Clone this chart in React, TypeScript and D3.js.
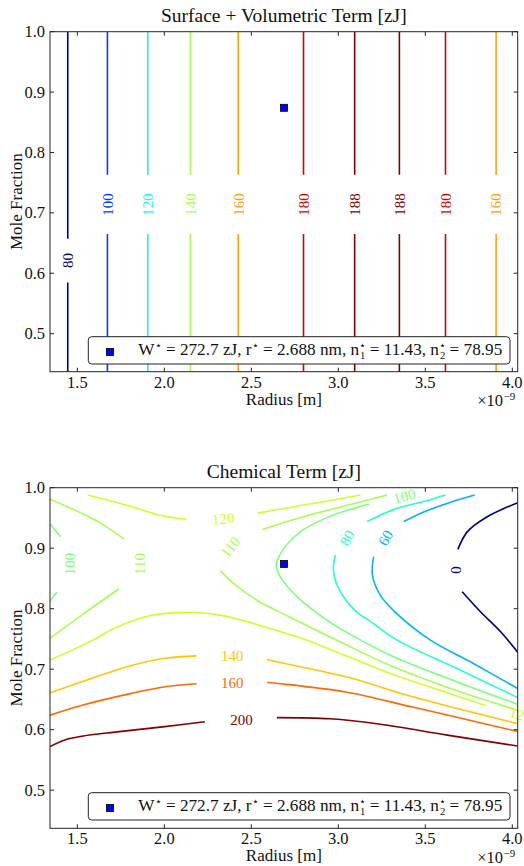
import React from 'react';
import * as d3 from 'd3';

// ---------- data ----------
const X_DOMAIN = [1.343, 4.031]; // radius, x1e-9 m
const Y_DOMAIN = [0.437, 1.0]; // mole fraction
const X_TICKS = [1.5, 2.0, 2.5, 3.0, 3.5, 4.0];
const Y_TICKS = [0.5, 0.6, 0.7, 0.8, 0.9, 1.0];

const CRIT_R = 2.688;
const CRIT_X = 0.874;

// Surface + volumetric term: vertical contours
const SV_LEVELS = [80, 100, 120, 140, 160, 180, 188, 188, 180, 160];
const SV_RADII = [1.445, 1.673, 1.905, 2.15, 2.425, 2.8, 3.094, 3.351, 3.616, 3.907];
const SV_LABEL_X = [0.621, 0.714, 0.714, 0.714, 0.714, 0.714, 0.714, 0.714, 0.714, 0.714];
const SV_RANGE = [80, 188];

// Chemical term contours (segments between inline labels): [radius, mole fraction]
const CHEM_RANGE = [0, 200];
const chem0 = [
  [[3.687, 0.898], [3.741, 0.927], [3.856, 0.952], [4.031, 0.975]],
  [[3.712, 0.828], [3.817, 0.795], [3.933, 0.762], [4.031, 0.728]],
];
const chem60 = [
  [[3.376, 0.944], [3.501, 0.961], [3.645, 0.976], [3.784, 0.988]],
  [[3.203, 0.886], [3.196, 0.855], [3.242, 0.822], [3.328, 0.794], [3.53, 0.748], [3.779, 0.709], [4.031, 0.668]],
];
const chem80 = [
  [[3.165, 0.944], [3.328, 0.965], [3.501, 0.978], [3.616, 0.988]],
  [[2.983, 0.889], [2.973, 0.861], [3.012, 0.828], [3.108, 0.794], [3.174, 0.781], [3.338, 0.748], [3.683, 0.701], [4.031, 0.653]],
];
const chem100Left = [
  [[1.343, 0.94], [1.372, 0.93], [1.402, 0.919]],
  [[1.383, 0.827], [1.362, 0.82], [1.343, 0.812]],
];
const chem100Right = [
  [[3.178, 0.973], [2.954, 0.953], [2.781, 0.927], [2.695, 0.903], [2.649, 0.88], [2.643, 0.87], [2.666, 0.853], [2.762, 0.82], [2.896, 0.789], [3.012, 0.767], [3.299, 0.723], [3.683, 0.679], [4.031, 0.642]],
];
const chem110Left = [
  [[1.343, 0.981], [1.523, 0.958], [1.638, 0.941], [1.769, 0.915]],
  [[1.74, 0.833], [1.523, 0.789], [1.343, 0.751]],
];
const chem110Right = [
  [[3.28, 0.988], [3.04, 0.97], [2.849, 0.956], [2.564, 0.931]],
  [[2.321, 0.863], [2.398, 0.842], [2.532, 0.814], [2.724, 0.786], [3.012, 0.745], [3.299, 0.706], [3.645, 0.668], [4.031, 0.632]],
];
const chem120Upper = [
  [[1.562, 0.988], [1.811, 0.969], [1.964, 0.955], [2.127, 0.948]],
  [[2.538, 0.958], [2.712, 0.967], [2.897, 0.976], [3.127, 0.988]],
];
const chem120Lower = [
  [[1.343, 0.715], [1.59, 0.748], [1.715, 0.768], [1.907, 0.788], [2.127, 0.794], [2.329, 0.789], [2.59, 0.769], [2.82, 0.748], [3.012, 0.726], [3.299, 0.693], [3.587, 0.665], [3.846, 0.64]],
];
const chem140 = [
  [[1.343, 0.661], [1.523, 0.679], [1.811, 0.706], [2.003, 0.718], [2.185, 0.722]],
  [[2.59, 0.716], [2.666, 0.711], [3.05, 0.687], [3.433, 0.654], [4.031, 0.61]],
];
const chem160 = [
  [[1.343, 0.624], [1.523, 0.64], [1.811, 0.66], [2.003, 0.671], [2.185, 0.676]],
  [[2.59, 0.678], [2.666, 0.676], [3.05, 0.662], [3.433, 0.637], [4.031, 0.597]],
];
const chem200 = [
  [[1.343, 0.572], [1.428, 0.583], [1.523, 0.589], [1.715, 0.596], [2.003, 0.605], [2.233, 0.613]],
  [[2.647, 0.62], [2.954, 0.618], [3.242, 0.609], [3.626, 0.591], [4.031, 0.573]],
];
const CHEM_LINES: [number, number[][][]][] = [
  [0, chem0], [60, chem60], [80, chem80], [100, chem100Left], [100, chem100Right],
  [110, chem110Left], [110, chem110Right], [120, chem120Upper], [120, chem120Lower],
  [140, chem140], [160, chem160], [200, chem200],
];
// inline labels: level, radius, mole fraction, rotation
const CHEM_LABEL_LEVELS = [100, 110, 120, 110, 100, 80, 60, 0, 140, 160, 200, 120];
const CHEM_LABEL_R = [1.455, 1.859, 2.338, 2.379, 3.38, 3.05, 3.271, 3.673, 2.39, 2.39, 2.444, 4.047];
const CHEM_LABEL_X = [0.874, 0.874, 0.949, 0.902, 0.986, 0.917, 0.917, 0.864, 0.722, 0.678, 0.617, 0.625];
const CHEM_LABEL_ROT = [-90, -90, -6, -52, -16, -60, -60, -90, 0, 0, 0, 15];

// ---------- helpers ----------
const jetR = d3.scaleLinear().domain([0, 0.35, 0.66, 0.89, 1]).range([0, 0, 1, 1, 0.5]).clamp(true);
const jetG = d3.scaleLinear().domain([0, 0.125, 0.375, 0.64, 0.91, 1]).range([0, 0, 1, 1, 0, 0]).clamp(true);
const jetB = d3.scaleLinear().domain([0, 0.11, 0.34, 0.65, 1]).range([0.5, 1, 1, 0, 0]).clamp(true);
function jet(t: number) {
  return d3.rgb(jetR(t) * 255, jetG(t) * 255, jetB(t) * 255).formatHex();
}

const FONT = "'Liberation Serif', 'DejaVu Serif', serif";
const LEFT = 50;
const RIGHT = 517.7;

const x = d3.scaleLinear().domain(X_DOMAIN).range([LEFT, RIGHT]);

function Legend({ top }: { top: number }) {
  const sup = -6;
  return (
    <g>
      <rect x={88.3} y={top + 305} width={421.7} height={27.3} rx={3.5} fill="#fff" stroke="#222" strokeWidth={1} />
      <rect x={110 - 3.5} y={top + 320.3 - 3.5} width={7} height={7} fill="#0000ff" stroke="#000" strokeWidth={0.8} />
      <text
        x={138.3}
        y={top + 323.3}
        fontFamily={FONT}
        fontSize={17}
        fill="#111"
        textLength={364}
        lengthAdjust="spacingAndGlyphs"
      >
        W<tspan dy={sup} fontSize={10.5}>⋆</tspan>
        <tspan dy={-sup}> = 272.7 zJ, r</tspan>
        <tspan dy={sup} fontSize={10.5}>⋆</tspan>
        <tspan dy={-sup}> = 2.688 nm, n</tspan>
        <tspan dy={sup} fontSize={10.5}>⋆</tspan>
        <tspan dx={-6} dy={10} fontSize={10.5}>1</tspan>
        <tspan dy={-10 - sup}> = 11.43, n</tspan>
        <tspan dy={sup} fontSize={10.5}>⋆</tspan>
        <tspan dx={-6} dy={10} fontSize={10.5}>2</tspan>
        <tspan dy={-10 - sup}> = 78.95</tspan>
      </text>
    </g>
  );
}

function Frame({ y, top, bottom, title }: { y: d3.ScaleLinear<number, number>; top: number; bottom: number; title: string }) {
  const tl = 4;
  const mid = (top + bottom) / 2;
  return (
    <g>
      {X_TICKS.map((t) => (
        <g key={'x' + t}>
          <line x1={x(t)} x2={x(t)} y1={bottom} y2={bottom - tl} stroke="#222" />
          <line x1={x(t)} x2={x(t)} y1={top} y2={top + tl} stroke="#222" />
          <text x={x(t)} y={bottom + 16} textAnchor="middle" fontFamily={FONT} fontSize={16.5} fill="#111">
            {d3.format('.1f')(t)}
          </text>
        </g>
      ))}
      {Y_TICKS.map((t) => (
        <g key={'y' + t}>
          <line x1={LEFT} x2={LEFT + tl} y1={y(t)} y2={y(t)} stroke="#222" />
          <line x1={RIGHT} x2={RIGHT - tl} y1={y(t)} y2={y(t)} stroke="#222" />
          <text x={45} y={y(t) + 5.6} textAnchor="end" fontFamily={FONT} fontSize={16.5} fill="#111">
            {d3.format('.1f')(t)}
          </text>
        </g>
      ))}
      <rect x={LEFT} y={top} width={RIGHT - LEFT} height={bottom - top} fill="none" stroke="#222" strokeWidth={1} />
      <text x={(LEFT + RIGHT) / 2} y={top - 10} textAnchor="middle" fontFamily={FONT} fontSize={19.5} fill="#111">
        {title}
      </text>
      <text x={(LEFT + RIGHT) / 2} y={bottom + 33} textAnchor="middle" fontFamily={FONT} fontSize={17} fill="#111">
        Radius [m]
      </text>
      <text x={503} y={bottom + 34.5} textAnchor="end" fontFamily={FONT} fontSize={16.5} fill="#111">
        ×10
      </text>
      <text x={503.5} y={bottom + 28.5} textAnchor="start" fontFamily={FONT} fontSize={11} fill="#111">
        −9
      </text>
      <text transform={`translate(21.5,${mid}) rotate(-90)`} textAnchor="middle" fontFamily={FONT} fontSize={17} fill="#111">
        Mole Fraction
      </text>
      <rect x={x(CRIT_R) - 3.5} y={y(CRIT_X) - 3.5} width={7} height={7} fill="#0000ff" stroke="#000" strokeWidth={0.8} />
      <Legend top={top} />
    </g>
  );
}

export default function App() {
  const yTop = d3.scaleLinear().domain(Y_DOMAIN).range([371.7, 31.7]);
  const yBot = d3.scaleLinear().domain(Y_DOMAIN).range([828.3, 487.7]);
  const svNorm = d3.scaleLinear().domain(SV_RANGE).range([0, 1]);
  const chNorm = d3.scaleLinear().domain(CHEM_RANGE).range([0, 1]);
  const line = d3
    .line<number[]>()
    .x((d) => x(d[0]))
    .y((d) => yBot(d[1]))
    .curve(d3.curveCatmullRom.alpha(0.5));

  return (
    <svg width={524} height={866} style={{ position: 'absolute', left: 0, top: 0, background: '#fff' }}>
      <defs>
        <clipPath id="clipTop">
          <rect x={LEFT} y={31.7} width={RIGHT - LEFT} height={340} />
        </clipPath>
        <clipPath id="clipBot">
          <rect x={LEFT} y={487.7} width={RIGHT - LEFT} height={340.6} />
        </clipPath>
      </defs>
      <rect x={0} y={0} width={524} height={866} fill="#fff" />

      {/* top panel contours */}
      <g clipPath="url(#clipTop)">
        {SV_RADII.map((r, i) => {
          const c = jet(svNorm(SV_LEVELS[i]));
          const py = yTop(SV_LABEL_X[i]);
          const half = (String(SV_LEVELS[i]).length * 15.8 + 12) / 2;
          return (
            <g key={i}>
              <line x1={x(r)} x2={x(r)} y1={yTop(Y_DOMAIN[1])} y2={py - half} stroke={c} strokeWidth={1.6} />
              <line x1={x(r)} x2={x(r)} y1={py + half} y2={yTop(Y_DOMAIN[0])} stroke={c} strokeWidth={1.6} />
            </g>
          );
        })}
      </g>
      {SV_RADII.map((r, i) => (
        <text
          key={'l' + i}
          transform={`translate(${x(r)},${yTop(SV_LABEL_X[i])}) rotate(-90)`}
          textAnchor="middle"
          dy="0.35em"
          fontFamily={FONT}
          fontSize={15}
          fill={jet(svNorm(SV_LEVELS[i]))}
        >
          {SV_LEVELS[i]}
        </text>
      ))}
      <Frame y={yTop} top={31.7} bottom={371.7} title="Surface + Volumetric Term [zJ]" />

      {/* bottom panel contours */}
      <g clipPath="url(#clipBot)">
        {CHEM_LINES.map(([lev, segs], i) =>
          segs.map((s, j) => (
            <path key={i + '-' + j} d={line(s) || ''} fill="none" stroke={jet(chNorm(lev))} strokeWidth={1.6} />
          ))
        )}
      </g>
      {CHEM_LABEL_LEVELS.map((lev, i) => (
        <text
          key={'c' + i}
          transform={`translate(${x(CHEM_LABEL_R[i])},${yBot(CHEM_LABEL_X[i])}) rotate(${CHEM_LABEL_ROT[i]})`}
          textAnchor="middle"
          dy="0.35em"
          fontFamily={FONT}
          fontSize={15}
          fill={jet(chNorm(lev))}
        >
          {lev}
        </text>
      ))}
      <Frame y={yBot} top={487.7} bottom={828.3} title="Chemical Term [zJ]" />
    </svg>
  );
}
